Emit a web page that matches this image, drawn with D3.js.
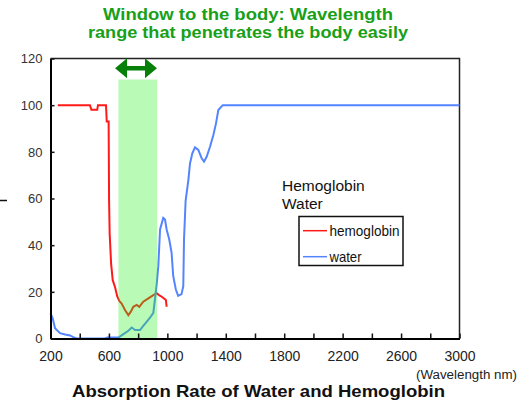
<!DOCTYPE html>
<html>
<head>
<meta charset="utf-8">
<script src="https://cdn.jsdelivr.net/npm/d3@7"></script>
<style>
  html, body { margin: 0; padding: 0; background: #fff; }
  svg { display: block; font-family: "Liberation Sans", Arial, sans-serif; }
</style>
</head>
<body>
<svg id="chart" width="518" height="405"></svg>
<script>
// Absorption rate (%) against wavelength (nm)
const hemoWavelength = [250, 470, 480, 520, 525, 580, 585, 598, 601, 605, 615, 626, 642, 657, 672, 687, 710, 733, 750, 767, 790, 808, 835, 870, 904, 927, 945, 962, 990, 995];
const hemoAbsorption = [100, 100, 98, 98, 100, 100, 93, 93, 59, 45, 32, 25, 22, 18, 16, 15, 12.2, 10, 11.5, 13.6, 14.4, 13.6, 15.8, 17.2, 18.6, 19.4, 18.5, 17.9, 16.5, 13.6];

const waterWavelength = [200, 215, 231, 265, 300, 334, 361, 380, 570, 590, 665, 699, 733, 756, 779, 813, 835, 858, 881, 904, 915, 927, 938, 950, 972, 984, 995, 1013, 1029, 1040, 1058, 1074, 1097, 1109, 1114, 1125, 1144, 1155, 1171, 1189, 1212, 1235, 1251, 1269, 1292, 1315, 1333, 1349, 1379, 3000];
const waterAbsorption = [10.8, 8.7, 4.4, 2.3, 1.7, 1.3, 0.4, 0, 0, 0.4, 0.4, 1.9, 3.3, 4.7, 3.6, 3.6, 5.4, 7.1, 8.9, 11, 16.8, 23.3, 31, 46.7, 51.7, 51, 46.7, 42.4, 36.7, 26.8, 21, 18.3, 19, 22.4, 42.4, 59, 68, 75, 79.4, 81.9, 80.8, 77.2, 75.8, 77.9, 82.2, 87.2, 92.2, 97.9, 100, 100];

// Optical window of the body
const windowRange = [665, 930];
const windowTop = 111;
const arrowRange = [642, 929];
const arrowLevel = 115.8;

const xTicks = [200, 400, 600, 800, 1000, 1200, 1400, 1600, 1800, 2000, 2200, 2400, 2600, 2800, 3000];
const xLabels = [200, 600, 1000, 1400, 1800, 2200, 2600, 3000];
const yTicks = [0, 20, 40, 60, 80, 100, 120];

const seriesNames = ["hemoglobin", "water"];
const seriesColors = ["#ff1a1a", "#5484ff"];
const titleLines = ["Window to the body: Wavelength", "range that penetrates the body easily"];

const svg = d3.select("#chart");
const x = d3.scaleLinear().domain([200, 3000]).range([50.5, 459.5]);
const y = d3.scaleLinear().domain([0, 120]).range([338.5, 58.5]);

// Stray mark at the left edge
svg.append("line").attr("x1", 0).attr("x2", 7).attr("y1", 200.5).attr("y2", 200.5)
  .attr("stroke", "#111").attr("stroke-width", 1.5);

// Plot frame (top and right)
svg.append("path")
  .attr("d", `M${x(200)},${y(120)}H${x(3000)}V${y(0)}`)
  .attr("fill", "none").attr("stroke", "#222").attr("stroke-width", 1.5);

// Curves
const line = d3.line().x(d => x(d[0])).y(d => y(d[1]));
const hemo = d3.zip(hemoWavelength, hemoAbsorption);
const water = d3.zip(waterWavelength, waterAbsorption);
svg.append("path").datum(hemo).attr("d", line)
  .attr("fill", "none").attr("stroke", seriesColors[0]).attr("stroke-width", 2);
svg.append("path").datum(water).attr("d", line)
  .attr("fill", "none").attr("stroke", seriesColors[1]).attr("stroke-width", 2);

// Translucent window band over the curves
svg.append("rect")
  .attr("x", x(windowRange[0])).attr("width", x(windowRange[1]) - x(windowRange[0]))
  .attr("y", y(windowTop)).attr("height", y(0) - y(windowTop))
  .attr("fill", "rgb(40,240,30)").attr("fill-opacity", 0.32);

// Double-headed arrow above the band
(function () {
  const x0 = x(arrowRange[0]), x1 = x(arrowRange[1]), cy = y(arrowLevel);
  const head = 12, half = 10, shaft = 2.2;
  const d = `M${x0},${cy} L${x0 + head},${cy - half} L${x0 + head},${cy - shaft} L${x1 - head},${cy - shaft}` +
            ` L${x1 - head},${cy - half} L${x1},${cy} L${x1 - head},${cy + half} L${x1 - head},${cy + shaft}` +
            ` L${x0 + head},${cy + shaft} L${x0 + head},${cy + half} Z`;
  svg.append("path").attr("d", d).attr("fill", "#07800a");
})();

// Axes with inward ticks
const xAxis = d3.axisBottom(x).tickValues(xTicks)
  .tickFormat(v => xLabels.includes(v) ? String(v) : "")
  .tickSizeInner(-5).tickSizeOuter(0).tickPadding(13);
const gx = svg.append("g").attr("transform", `translate(0,${y(0)})`).call(xAxis);
gx.select(".domain").attr("stroke", "#000").attr("stroke-width", 2);
gx.selectAll(".tick line").attr("stroke", "#111").attr("stroke-width", 1.5);
gx.selectAll(".tick text").attr("font-size", 14).attr("fill", "#222")
  .attr("font-family", "Liberation Sans, Arial, sans-serif");

const yAxis = d3.axisLeft(y).tickValues(yTicks).tickSizeInner(-4).tickSizeOuter(0).tickPadding(8);
const gy = svg.append("g").attr("transform", `translate(${x(200)},0)`).call(yAxis);
gy.select(".domain").attr("stroke", "#000").attr("stroke-width", 2);
gy.selectAll(".tick line").attr("stroke", "#111").attr("stroke-width", 1.5);
gy.selectAll(".tick text").attr("font-size", 13).attr("fill", "#333")
  .attr("font-family", "Liberation Sans, Arial, sans-serif");

// Titles (glyphs widened to the set line widths)
const titleWidths = [290, 320];
svg.selectAll("text.title").data(titleLines).join("text")
  .attr("class", "title")
  .attr("x", (d, i) => 248 - titleWidths[i] / 2).attr("y", (d, i) => 19.5 + i * 18.5)
  .attr("font-size", 16.5).attr("font-weight", "bold").attr("fill", "#18a018")
  .attr("textLength", (d, i) => titleWidths[i]).attr("lengthAdjust", "spacingAndGlyphs")
  .text(d => d);

svg.append("text").attr("x", 72).attr("y", 397)
  .attr("font-size", 16.5).attr("font-weight", "bold").attr("fill", "#111")
  .attr("textLength", 373).attr("lengthAdjust", "spacingAndGlyphs")
  .text("Absorption Rate of Water and Hemoglobin");

svg.append("text").attr("x", 517).attr("y", 378.5).attr("text-anchor", "end")
  .attr("font-size", 12).attr("fill", "#222")
  .attr("textLength", 101).attr("lengthAdjust", "spacingAndGlyphs")
  .text("(Wavelength nm)");

// Series captions
svg.append("text").attr("x", 282).attr("y", 190.5).attr("font-size", 15.5).attr("fill", "#111").text("Hemoglobin");
svg.append("text").attr("x", 282).attr("y", 208.5).attr("font-size", 15.5).attr("fill", "#111").text("Water");

// Legend
const legend = svg.append("g");
legend.append("rect").attr("x", 299).attr("y", 216.5).attr("width", 104).attr("height", 49)
  .attr("fill", "#fff").attr("stroke", "#111").attr("stroke-width", 1.5);
const rows = legend.selectAll("g.row").data(seriesNames).join("g").attr("class", "row")
  .attr("transform", (d, i) => `translate(0,${230.7 + i * 26})`);
rows.append("line").attr("x1", 303).attr("x2", 327).attr("y1", 0).attr("y2", 0)
  .attr("stroke", (d, i) => seriesColors[i]).attr("stroke-width", 1.5);
rows.append("text").attr("x", 329.5).attr("y", 5.5)
  .attr("font-size", 14.5).attr("fill", "#111")
  .attr("textLength", (d, i) => i === 0 ? 70 : 32).attr("lengthAdjust", "spacingAndGlyphs")
  .text(d => d);
</script>
</body>
</html>
